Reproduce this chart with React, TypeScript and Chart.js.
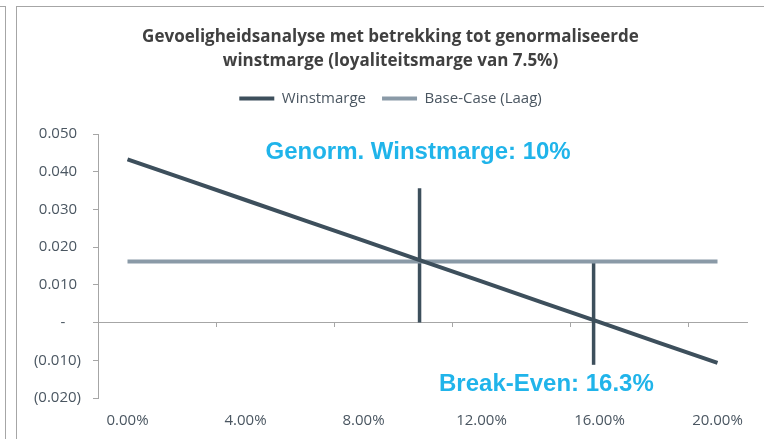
import React, { useEffect, useRef } from 'react';
import { Chart, registerables, layouts } from 'chart.js';

Chart.register(...registerables);

// ---- data ----
const xValues = [0, 2, 4, 6, 8, 10, 12, 14, 16, 18, 20];
const winstmarge = [0.0433, 0.0379, 0.0325, 0.0271, 0.0217, 0.0163, 0.0109, 0.0055, 0.0001, -0.0053, -0.0107];
const baseCase = [0.0162, 0.0162, 0.0162, 0.0162, 0.0162, 0.0162, 0.0162, 0.0162, 0.0162, 0.0162, 0.0162];
const genormX = [9.9, 9.9];
const genormY = [0, 0.0356];
const breakEvenX = [15.8, 15.8];
const breakEvenY = [-0.0112, 0.0162];

const xTickValues = [0, 4, 8, 12, 16, 20];
const xTickLabels = ['0.00%', '4.00%', '8.00%', '12.00%', '16.00%', '20.00%'];
const xMarkValues = [-1, 3, 7, 11, 15, 19];
const yTickValues = [0.05, 0.04, 0.03, 0.02, 0.01, 0, -0.01, -0.02];
const yTickLabels = ['0.050 ', '0.040 ', '0.030 ', '0.020 ', '0.010 ', '-    ', '(0.010)', '(0.020)'];

const titleLines = ['Gevoeligheidsanalyse met betrekking tot genormaliseerde', 'winstmarge (loyaliteitsmarge van 7.5%)'];
const seriesNames = ['Winstmarge', 'Base-Case (Laag)'];
const annotationTexts = ['Genorm. Winstmarge: 10%', 'Break-Even: 16.3%'];
const annotationX = [9.85, 14.2];
const annotationY = [0.0452, -0.0163];

const DARK = '#3d4f5c';
const LIGHT = '#8a9aa7';
const AXIS = '#a6a6a6';
const TEXT = '#4a5661';
const CYAN = '#20b4ea';

const annotationPlugin = {
  id: 'annotations',
  afterDatasetsDraw(chart: any) {
    const { ctx, scales } = chart;
    ctx.save();
    ctx.font = 'bold 24px "Liberation Sans", Arial, sans-serif';
    ctx.fillStyle = CYAN;
    ctx.textAlign = 'center';
    ctx.textBaseline = 'middle';
    annotationTexts.forEach((t, i) => {
      ctx.fillText(t, scales.x.getPixelForValue(annotationX[i]), scales.y.getPixelForValue(annotationY[i]));
    });
    ctx.restore();
  },
};

// empty layout box between the legend and the plot area
const spacerPlugin = {
  id: 'legendSpacer',
  start(chart: any) {
    const box: any = {
      position: 'top',
      weight: 500,
      fullSize: true,
      options: { stackWeight: 1 },
      width: 0,
      height: 0,
      left: 0,
      top: 0,
      right: 0,
      bottom: 0,
      isHorizontal() {
        return true;
      },
      update(maxWidth: number) {
        this.width = maxWidth;
        this.height = 18;
      },
      draw() {},
    };
    layouts.addBox(chart, box);
  },
};

export default function App() {
  const ref = useRef<HTMLCanvasElement | null>(null);

  useEffect(() => {
    if (!ref.current) return;
    Chart.defaults.font.family = '"Open Sans", sans-serif';
    const lineDs = (label: string, xs: number[], ys: number[], color: string, width: number) => ({
      label,
      data: xs.map((x, i) => ({ x, y: ys[i] })),
      borderColor: color,
      backgroundColor: color,
      borderWidth: width,
      pointRadius: 0,
      pointHoverRadius: 0,
      tension: 0,
      fill: false,
    });
    let chart: any = null;
    try {
      chart = new Chart(ref.current, {
        type: 'line',
        data: {
          datasets: [
            lineDs(seriesNames[0], xValues, winstmarge, DARK, 4),
            lineDs(seriesNames[1], xValues, baseCase, LIGHT, 4),
            lineDs('genorm', genormX, genormY, DARK, 3.5),
            lineDs('breakeven', breakEvenX, breakEvenY, DARK, 3.5),
          ],
        },
        options: {
          animation: false,
          responsive: false,
          events: [],
          layout: { padding: 0 },
          plugins: {
            tooltip: { enabled: false },
            title: {
              display: true,
              text: titleLines,
              color: '#404040',
              font: { family: '"Open Sans", sans-serif', size: 17, weight: 'bold', lineHeight: 24 / 17 },
              padding: { top: 18, bottom: 2 },
            },
            legend: {
              display: true,
              position: 'top',
              labels: {
                color: TEXT,
                font: { size: 15 },
                boxWidth: 35,
                boxHeight: 4,
                padding: 16,
                generateLabels: (c: any) =>
                  c.data.datasets.slice(0, 2).map((ds: any, i: number) => ({
                    text: ds.label,
                    fillStyle: ds.borderColor,
                    strokeStyle: ds.borderColor,
                    lineWidth: 0,
                    hidden: false,
                    datasetIndex: i,
                    fontColor: TEXT,
                  })),
              },
            },
          },
          scales: {
            x: {
              type: 'linear',
              position: 'bottom',
              min: -1,
              max: 21,
              afterBuildTicks: (s: any) => {
                s.ticks = xTickValues.map((v) => ({ value: v }));
              },
              afterFit: (s: any) => {
                s.height = 41;
                s.paddingRight = 17;
              },
              grid: { display: false, drawTicks: false },
              border: { display: false },
              ticks: {
                color: TEXT,
                font: { size: 15 },
                padding: 14,
                autoSkip: false,
                maxRotation: 0,
                callback: (v: any) => xTickLabels[xTickValues.indexOf(Number(v))],
              },
            },
            x2: {
              type: 'linear',
              axis: 'x',
              position: { y: 0 },
              min: -1,
              max: 21,
              afterBuildTicks: (s: any) => {
                s.ticks = xMarkValues.map((v) => ({ value: v }));
              },
              grid: { drawOnChartArea: false, drawTicks: true, tickLength: 4, color: AXIS },
              border: { display: true, color: AXIS, width: 1 },
              ticks: { display: false },
            },
            y: {
              type: 'linear',
              position: 'left',
              min: -0.02,
              max: 0.05,
              afterBuildTicks: (s: any) => {
                s.ticks = yTickValues.map((v) => ({ value: v }));
              },
              afterFit: (s: any) => {
                s.width = 81;
              },
              grid: { drawOnChartArea: false, drawTicks: true, tickLength: 5, color: AXIS },
              border: { display: true, color: AXIS, width: 1 },
              ticks: {
                color: TEXT,
                font: { size: 15 },
                padding: 12,
                callback: (v: any) => {
                  const idx = yTickValues.findIndex((t) => Math.abs(t - Number(v)) < 1e-9);
                  return idx >= 0 ? yTickLabels[idx] : '';
                },
              },
            },
          },
        } as any,
        plugins: [annotationPlugin, spacerPlugin],
      });
    } catch (e) {
      console.error(e);
    }
    return () => {
      if (chart) chart.destroy();
    };
  }, []);

  return (
    <div style={{ position: 'fixed', left: 0, top: 0, width: 764, height: 439, background: '#fff', overflow: 'hidden' }}>
      <div
        style={{
          position: 'absolute',
          left: -10,
          top: 6,
          width: 15,
          height: 500,
          borderTop: `1px solid ${AXIS}`,
          borderRight: `1px solid ${AXIS}`,
        }}
      />
      <div
        style={{
          position: 'absolute',
          left: 16,
          top: 6,
          width: 800,
          height: 500,
          borderTop: `1px solid ${AXIS}`,
          borderLeft: `1px solid ${AXIS}`,
        }}
      />
      <canvas
        ref={ref}
        width={747}
        height={432}
        style={{ position: 'absolute', left: 17, top: 7, width: 747, height: 432 }}
      />
    </div>
  );
}
